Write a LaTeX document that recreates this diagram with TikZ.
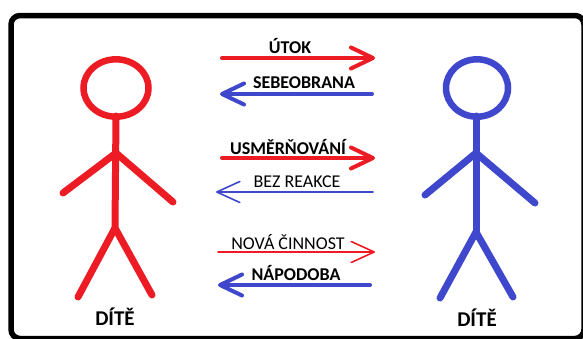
\documentclass[tikz,border=0pt]{standalone}
\usepackage{fontspec}
\setmainfont{Carlito}
\usetikzlibrary{arrows.meta}
\definecolor{pred}{RGB}{237,28,36}
\definecolor{pblue}{RGB}{63,72,204}
\tikzset{
  limb/.style={line width=7pt, line cap=round, line join=round},
  headring/.style={line width=6.5pt},
  frame/.style={line width=5.5pt, rounded corners=9pt},
  heavyarrow/.style={line width=4pt, line cap=round,
    -{Straight Barb[length=22pt,width=21pt,round]}},
  lightarrow/.style={line width=1.6pt, line cap=round,
    -{Straight Barb[length=23pt,width=21pt,round]}},
  boldlbl/.style={font=\bfseries\fontsize{18}{20}\selectfont, inner sep=0pt, anchor=base},
  plainlbl/.style={font=\fontsize{18}{20}\selectfont, inner sep=0pt, anchor=base},
  namelbl/.style={font=\bfseries\fontsize{21}{24}\selectfont, inner sep=0pt, anchor=base},
}
\begin{document}
\begin{tikzpicture}[x=1pt,y=-1pt]
\useasboundingbox (0,0) rectangle (583,338);
\clip (0,0) rectangle (583,338);
\fill[white] (0,0) rectangle (583,338);
\draw[frame] (11,15.5) rectangle (584,338.5);

% red figure
\coordinate (rhead) at (116,88);
\coordinate (rneck) at (116,116);
\coordinate (rjoin) at (116,153);
\coordinate (rhip) at (115,228);
\coordinate (rhandl) at (63,193);
\coordinate (rhandr) at (173,202);
\coordinate (rfootl) at (78,297);
\coordinate (rfootr) at (152,295);
\draw[pred, headring] (rhead) ellipse [x radius=32.5, y radius=28.7];
\draw[pred, limb] (rneck) -- (rhip);
\draw[pred, limb] (rhandl) -- (rjoin) -- (rhandr);
\draw[pred, limb] (rfootl) -- (rhip) -- (rfootr);
\node[namelbl] (rname) at (115,325) {DÍTĚ};

% blue figure
\coordinate (bhead) at (477,88);
\coordinate (bneck) at (476,116);
\coordinate (bjoin) at (476,153);
\coordinate (bhip) at (476,232);
\coordinate (bhandl) at (425,195);
\coordinate (bhandr) at (535,203);
\coordinate (bfootl) at (440,298);
\coordinate (bfootr) at (513,297);
\draw[pblue, headring] (bhead) ellipse [x radius=31, y radius=28.7];
\draw[pblue, limb] (bneck) -- (bhip);
\draw[pblue, limb] (bhandl) -- (bjoin) -- (bhandr);
\draw[pblue, limb] (bfootl) -- (bhip) -- (bfootr);
\node[namelbl] (bname) at (477,326) {DÍTĚ};

% arrows
\coordinate (a1s) at (222,58);   \coordinate (a1e) at (375,58);
\coordinate (a2s) at (372,94);   \coordinate (a2e) at (220,94);
\coordinate (a3s) at (222,158);  \coordinate (a3e) at (375,158);
\coordinate (a4s) at (373,192);  \coordinate (a4e) at (216,192);
\coordinate (a5s) at (218,252);  \coordinate (a5e) at (375,252);
\coordinate (a6s) at (370,285);  \coordinate (a6e) at (218,285);
\draw[pred, heavyarrow] (a1s) -- (a1e);
\draw[pblue, heavyarrow] (a2s) -- (a2e);
\draw[pred, heavyarrow] (a3s) -- (a3e);
\draw[pblue, lightarrow] (a4s) -- (a4e);
\draw[pred, lightarrow] (a5s) -- (a5e);
\draw[pblue, heavyarrow] (a6s) -- (a6e);

% labels
\node[boldlbl] (l1) at (290,53) {ÚTOK};
\node[boldlbl] (l2) at (304,88) {SEBEOBRANA};
\node[boldlbl] (l3) at (288,154) {USMĚRŇOVÁNÍ};
\node[plainlbl] (l4) at (297,187) {BEZ REAKCE};
\node[plainlbl] (l5) at (288,249) {NOVÁ ČINNOST};
\node[boldlbl] (l6) at (296,280) {NÁPODOBA};
\end{tikzpicture}
\end{document}
